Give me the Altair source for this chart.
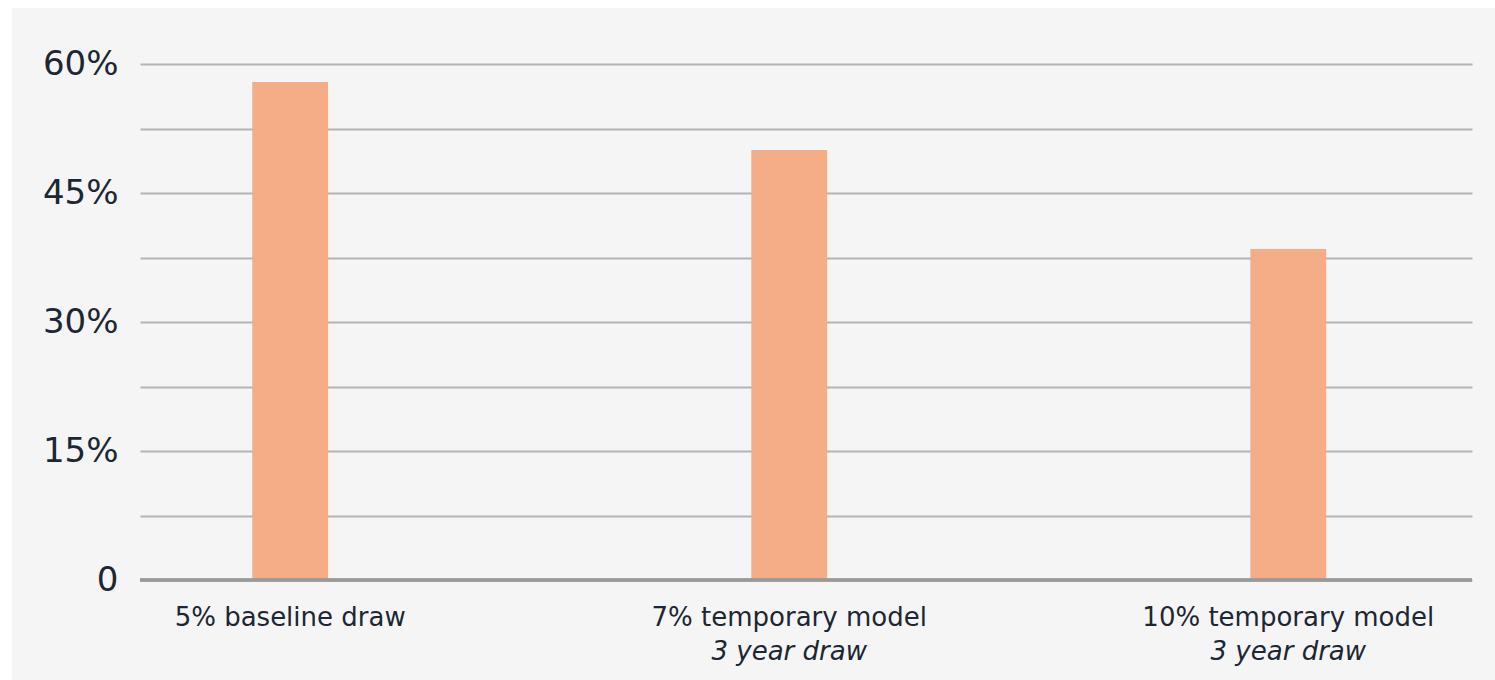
import altair as alt
import pandas as pd

categories = ["5% baseline draw", "7% temporary model", "10% temporary model"]
line1 = ["5% baseline draw", "7% temporary model", "10% temporary model"]
line2 = ["", "3 year draw", "3 year draw"]
values = [57.9, 50.0, 38.5]
y_ticks = [0, 7.5, 15, 22.5, 30, 37.5, 45, 52.5, 60]

df = pd.DataFrame({"cat": categories, "l1": line1, "l2": line2, "v": values})

W, H = 1332, 516
FONT = "DejaVu Sans"
TXT = "#1d2733"

xenc = alt.X("cat:N", sort=categories, axis=None,
             scale=alt.Scale(paddingInner=0.848, paddingOuter=0.2585, align=0.435))

bars = alt.Chart(df).mark_bar(color="#f5ad88").encode(
    x=xenc,
    y=alt.Y("v:Q", scale=alt.Scale(domain=[0, 60], nice=False),
            axis=alt.Axis(values=y_ticks, title=None, domain=False, ticks=False,
                          labelExpr="datum.value % 15 == 0 ? (datum.value == 0 ? '0' : datum.value + '%') : ''",
                          labelFont=FONT, labelFontSize=34, labelColor=TXT, labelPadding=22,
                          gridColor="#b4b4b4", gridWidth=2, gridOpacity=1)),
)

base_rule = alt.Chart(df).mark_rule(color="#999999", strokeWidth=3).encode(
    x=alt.value(0), x2=alt.value(W), y=alt.value(H)
)

t1 = alt.Chart(df).mark_text(font=FONT, fontSize=26, color=TXT, baseline="middle", align="center").encode(
    x=xenc, y=alt.value(H + 38), text="l1:N"
)
t2 = alt.Chart(df).mark_text(font=FONT, fontSize=26, color=TXT, baseline="middle", align="center",
                             fontStyle="italic").encode(
    x=xenc, y=alt.value(H + 72), text="l2:N"
)

strip_left = alt.Chart(df).mark_rect(color="#ffffff").encode(
    x=alt.value(-140), x2=alt.value(-128), y=alt.value(-64), y2=alt.value(H + 100)
)
strip_top = alt.Chart(df).mark_rect(color="#ffffff").encode(
    x=alt.value(-140), x2=alt.value(W + 23), y=alt.value(-64), y2=alt.value(-56)
)

chart = alt.layer(strip_left, strip_top, bars, base_rule, t1, t2).properties(
    width=W, height=H,
    autosize=alt.AutoSizeParams(type="none"),
    padding={"left": 140, "top": 64, "right": 23, "bottom": 100},
    background="#f5f5f5",
).configure_view(stroke=None, fill=None)

chart.save("out.html", embed_options={"renderer": "svg", "actions": False})
